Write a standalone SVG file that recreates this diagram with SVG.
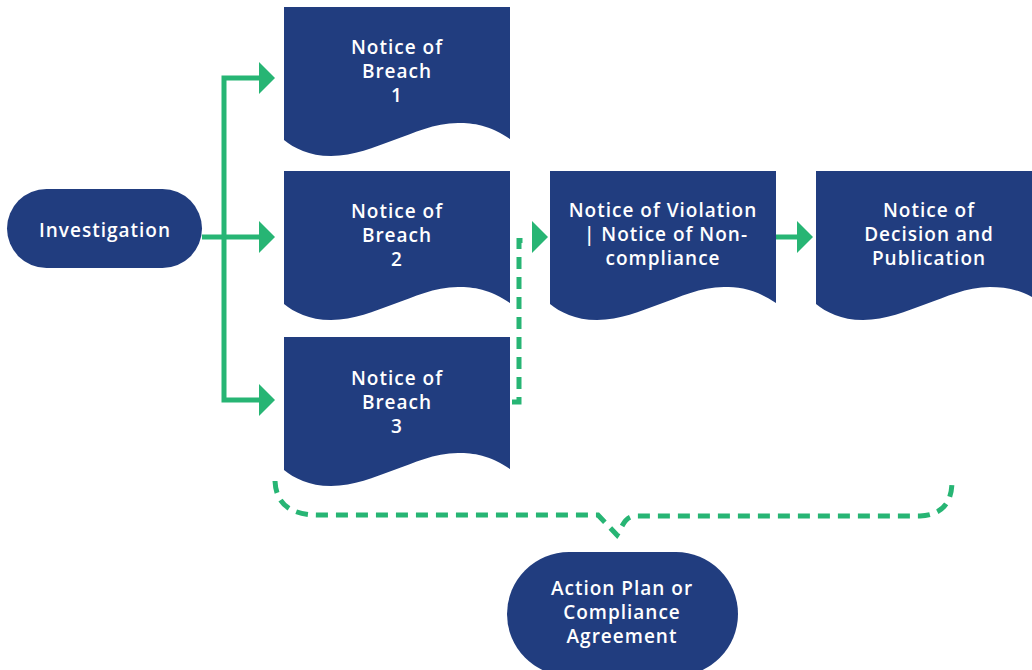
<svg xmlns="http://www.w3.org/2000/svg" xmlns:xlink="http://www.w3.org/1999/xlink" width="1032" height="670" viewBox="0 0 1032 670">
<style>
.box{fill:#213d7f}
.lbl{fill:#ffffff;font-family:"Open Sans","DejaVu Sans",sans-serif;font-weight:600;font-size:19px;letter-spacing:1px;text-anchor:middle}
.ln{fill:none;stroke:#27b574;stroke-width:5}
.dash{fill:none;stroke:#27b574;stroke-width:5;stroke-dasharray:12 8}
.head{fill:#27b574}
</style>
<defs>
<path id="doc" d="M0,0 H226 V132 C205,118 190,116 174,116 C150,116 130,126 110,133 C90,140 70,149 47,149 C25,149 10,141 0,133 Z"/>
</defs>
<rect width="1032" height="670" fill="#ffffff"/>
<g id="connectors">
<path class="ln" d="M202,237 H224 M259,78 H224 V400 H259 M224,237 H259"/>
<polygon class="head" points="259,62 275,78 259,94"/>
<polygon class="head" points="259,221 275,237 259,253"/>
<polygon class="head" points="259,384 275,400 259,416"/>
<path class="dash" d="M512,402 H519 V240.5 H528"/>
<polygon class="head" points="532,221 548,237 532,253"/>
<path class="ln" d="M776,237 H798"/>
<polygon class="head" points="797,221 813,237 797,253"/>
<path class="dash" d="M275,481 C276,505 292,515 318,515 H598 L617,535 C622,528 624,516 636,516 H920 C940,515 952,505 952,481"/>
</g>
<g id="investigation">
<rect class="box" x="7" y="189" width="195" height="79" rx="39.5"/>
<text class="lbl" x="105" y="237">Investigation</text>
</g>
<g id="breach1">
<use href="#doc" xlink:href="#doc" class="box" x="284" y="7"/>
<text class="lbl" x="397" y="54">Notice of</text>
<text class="lbl" x="397" y="78">Breach</text>
<text class="lbl" x="397" y="102">1</text>
</g>
<g id="breach2">
<use href="#doc" xlink:href="#doc" class="box" x="284" y="171"/>
<text class="lbl" x="397" y="218">Notice of</text>
<text class="lbl" x="397" y="242">Breach</text>
<text class="lbl" x="397" y="266">2</text>
</g>
<g id="breach3">
<use href="#doc" xlink:href="#doc" class="box" x="284" y="337"/>
<text class="lbl" x="397" y="385">Notice of</text>
<text class="lbl" x="397" y="409">Breach</text>
<text class="lbl" x="397" y="433">3</text>
</g>
<g id="violation">
<use href="#doc" xlink:href="#doc" class="box" x="550" y="171"/>
<text class="lbl" x="663" y="217">Notice of Violation</text>
<text class="lbl" x="666" y="241">| Notice of Non-</text>
<text class="lbl" x="663" y="265">compliance</text>
</g>
<g id="decision">
<use href="#doc" xlink:href="#doc" class="box" x="816" y="171"/>
<text class="lbl" x="929" y="217">Notice of</text>
<text class="lbl" x="929" y="241">Decision and</text>
<text class="lbl" x="929" y="265">Publication</text>
</g>
<g id="action-plan">
<rect class="box" x="507" y="552" width="231" height="124" rx="62"/>
<text class="lbl" x="622" y="595">Action Plan or</text>
<text class="lbl" x="622" y="619">Compliance</text>
<text class="lbl" x="622" y="643">Agreement</text>
</g>
</svg>
